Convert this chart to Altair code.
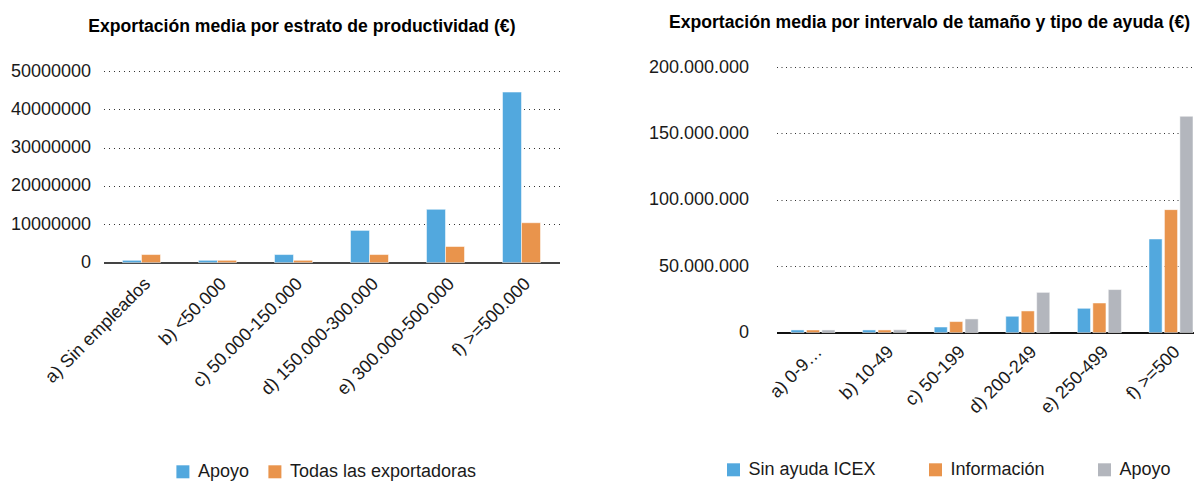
import altair as alt
import pandas as pd

# ---------------- data ----------------
left_categories = ["a) Sin empleados", "b) <50.000", "c) 50.000-150.000",
                   "d) 150.000-300.000", "e) 300.000-500.000", "f) >=500.000"]
left_series = ["Apoyo", "Todas las exportadoras"]
left_apoyo = [600000, 600000, 2100000, 8400000, 13900000, 44500000]
left_todas = [2100000, 600000, 600000, 2100000, 4200000, 10400000]
left_ticks = [0, 10000000, 20000000, 30000000, 40000000, 50000000]

right_categories = ["a) 0-9…", "b) 10-49", "c) 50-199", "d) 200-249",
                    "e) 250-499", "f) >=500"]
right_series = ["Sin ayuda ICEX", "Información", "Apoyo"]
right_sin = [2000000, 2000000, 4200000, 12300000, 18300000, 70500000]
right_info = [2000000, 2000000, 8300000, 16300000, 22300000, 92600000]
right_apoyo = [2000000, 2100000, 10300000, 30300000, 32400000, 162900000]
right_ticks = [0, 50000000, 100000000, 150000000, 200000000]

left_title = "Exportación media por estrato de productividad (€)"
right_title = "Exportación media por intervalo de tamaño y tipo de ayuda (€)"

BLUE = "#52A8DE"
ORANGE = "#E9944C"
GRAY = "#B3B6BD"
FS = 18
TFS = 17.6

rows = []
for c, a, t in zip(left_categories, left_apoyo, left_todas):
    rows.append({"cat": c, "serie": left_series[0], "val": a})
    rows.append({"cat": c, "serie": left_series[1], "val": t})
df_left = pd.DataFrame(rows)

rows = []
for c, s, i, a in zip(right_categories, right_sin, right_info, right_apoyo):
    rows.append({"cat": c, "serie": right_series[0], "val": s})
    rows.append({"cat": c, "serie": right_series[1], "val": i})
    rows.append({"cat": c, "serie": right_series[2], "val": a})
df_right = pd.DataFrame(rows)

bar_style = dict(stroke="#ffffff", strokeWidth=1, strokeOpacity=0.5)

LH = 195.6   # left plot height (shares top with right plot)
RH = 265.6

def legend(x, y, cols, colpad):
    return alt.Legend(orient="none", legendX=x, legendY=y,
                      direction="horizontal", columns=cols, title=None,
                      symbolType="square", symbolSize=169,
                      symbolStrokeWidth=0, labelFontSize=FS,
                      labelColor="#1a1a1a", columnPadding=colpad,
                      labelOffset=6, padding=0, labelLimit=400)

left = alt.Chart(df_left).mark_bar(**bar_style).encode(
    x=alt.X("cat:N", sort=left_categories,
            scale=alt.Scale(paddingInner=0.5, paddingOuter=0.25),
            axis=alt.Axis(title=None, labelAngle=-45, labelFontSize=FS,
                          labelColor="#1a1a1a", ticks=False, domainColor="#444444",
                          domainWidth=2, labelPadding=12, labelLimit=400, grid=False)),
    xOffset=alt.XOffset("serie:N", sort=left_series, scale=alt.Scale(paddingInner=0)),
    y=alt.Y("val:Q", scale=alt.Scale(domain=[0, 50000000], nice=False, range=[LH, 4]),
            axis=alt.Axis(title=None, values=left_ticks, format="d", grid=True,
                          gridDash=[1, 4], gridColor="#333333", gridWidth=1,
                          domain=False, ticks=False, labelPadding=13,
                          labelFontSize=FS, labelColor="#1a1a1a")),
    color=alt.Color("serie:N", sort=left_series,
                    scale=alt.Scale(domain=left_series, range=[BLUE, ORANGE]),
                    legend=legend(70.4, 395.8, 2, 16)),
).properties(
    width=456, height=LH,
    title=alt.TitleParams(text=left_title, fontSize=TFS, fontWeight="bold",
                          color="#000000", anchor="middle", dx=-29.6,
                          baseline="alphabetic", offset=12),
)

right = alt.Chart(df_right).mark_bar(**bar_style).encode(
    x=alt.X("cat:N", sort=right_categories,
            scale=alt.Scale(paddingInner=0.3855, paddingOuter=0.1117, align=0.906),
            axis=alt.Axis(title=None, labelAngle=-45, labelFontSize=FS,
                          labelColor="#1a1a1a", ticks=False, domainColor="#111111",
                          domainWidth=2, labelPadding=10, labelLimit=400, grid=False)),
    xOffset=alt.XOffset("serie:N", sort=right_series, scale=alt.Scale(paddingInner=0.15)),
    y=alt.Y("val:Q", scale=alt.Scale(domain=[0, 200000000], nice=False),
            axis=alt.Axis(title=None, values=right_ticks, grid=True,
                          labelExpr="replace(format(datum.value, ','), /,/g, '.')",
                          gridDash=[1, 3.5], gridColor="#333333", gridWidth=1,
                          domain=False, ticks=False, labelPadding=28,
                          labelFontSize=FS, labelColor="#1a1a1a")),
    color=alt.Color("serie:N", sort=right_series,
                    scale=alt.Scale(domain=right_series, range=[BLUE, ORANGE, GRAY]),
                    legend=legend(-52, 393.8, 3, 50)),
).properties(
    width=418, height=RH,
    title=alt.TitleParams(text=right_title, fontSize=TFS, fontWeight="bold",
                          color="#000000", anchor="middle", dx=-56,
                          baseline="alphabetic", offset=12),
)

chart = alt.hconcat(left, right, spacing=88).resolve_scale(
    color="independent", x="independent", y="independent", xOffset="independent"
).properties(
    padding={"left": 1.5, "top": 6, "right": -1, "bottom": 0},
    background="#ffffff",
).configure(font="Liberation Sans").configure_view(strokeWidth=0)

chart.save("out.html", embed_options={"renderer": "svg", "actions": False})
